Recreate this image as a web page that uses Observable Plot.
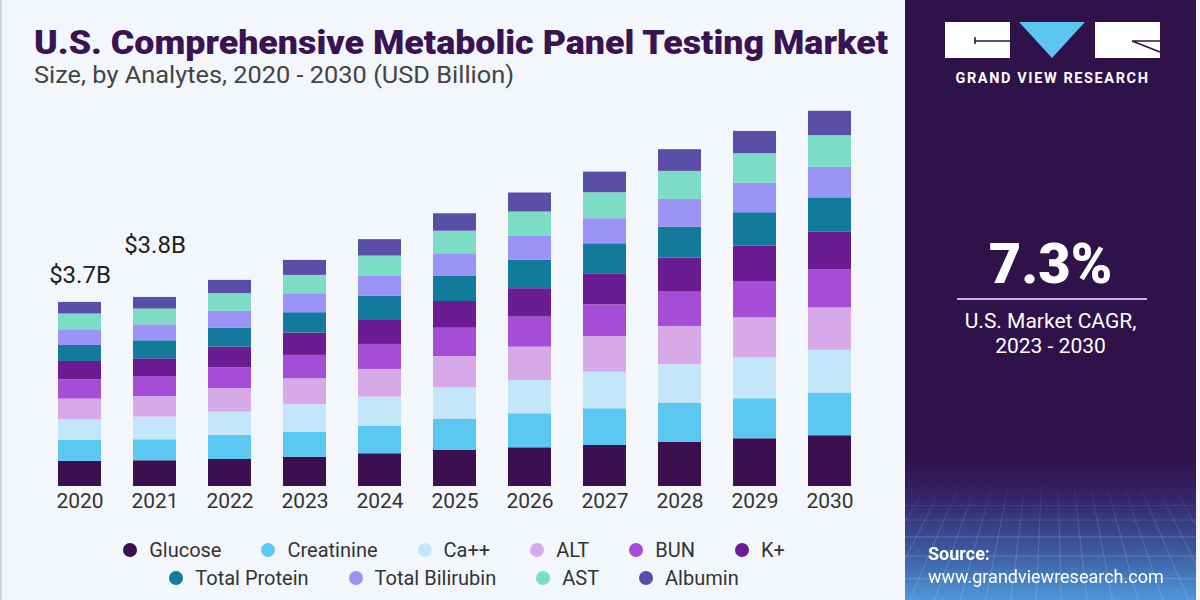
<!DOCTYPE html>
<html>
<head>
<meta charset="utf-8">
<script src="https://cdn.jsdelivr.net/npm/d3@7"></script>
<script src="https://cdn.jsdelivr.net/npm/@observablehq/plot@0.6"></script>
<style>
  html, body { margin: 0; padding: 0; }
  body {
    width: 1200px; height: 600px; position: relative; overflow: hidden;
    background: #f3f7fb; font-family: Roboto, "Liberation Sans", sans-serif;
  }
  #left {
    position: absolute; left: 0; top: 0; width: 905px; height: 600px;
    background: #f3f7fb; border-left: 2px solid #d3d6db; box-sizing: border-box;
  }
  .fit { position: absolute; white-space: nowrap; transform-origin: 0 0; }
  #title { left: 32px; top: 23px; font-size: 33px; font-weight: 900; color: #3a1352; }
  #subtitle { left: 32px; top: 62px; font-size: 23px; color: #444; }
  #chart { position: absolute; left: 0; top: 88px; }
  #legend { position: absolute; left: 0; top: 536px; width: 904px; font-size: 20px; color: #333; }
  .row { display: flex; justify-content: center; height: 28px; align-items: center; }
  .item { display: flex; align-items: center; margin: 0 20px; }
  .dot { width: 14px; height: 14px; border-radius: 50%; margin-right: 12px; }
  #panel {
    position: absolute; left: 905px; top: 0; width: 291px; height: 600px; overflow: hidden;
    background: linear-gradient(to bottom, #2e1249 0%, #2e1249 76%, #34246a 83%, #3d5aa0 92%, #4f98d8 100%);
  }
  #grid {
    position: absolute; left: -120px; width: 531px; top: 480px; height: 160px;
    background-image:
      repeating-linear-gradient(to right, rgba(200,210,255,0.16) 0 1px, transparent 1px 16px),
      repeating-linear-gradient(to bottom, rgba(200,210,255,0.16) 0 1px, transparent 1px 14px);
    transform: perspective(160px) rotateX(38deg);
    transform-origin: 50% 0;
    -webkit-mask-image: linear-gradient(to bottom, transparent 0%, #000 35%);
    mask-image: linear-gradient(to bottom, transparent 0%, #000 35%);
  }
  #cagr { position: absolute; left: 0; width: 291px; top: 234px; text-align: center;
    color: #fff; font-size: 56px; font-weight: 900; line-height: 60px; }
  #rule { position: absolute; left: 52px; width: 190px; top: 298px; height: 2px; background: #c9b4e6; }
  #cagrText { position: absolute; left: 0; width: 291px; top: 309px; text-align: center;
    color: #fff; font-size: 21px; line-height: 25px; }
  #source { position: absolute; left: 23px; top: 543px; color: #fff; font-size: 18px; font-weight: 700; }
  #url { position: absolute; left: 23px; top: 566px; color: #fff; font-size: 18px; }
  #logo { position: absolute; left: 0; top: 0; }
</style>
</head>
<body>
<div id="left">
  <div id="title" class="fit">U.S. Comprehensive Metabolic Panel Testing Market</div>
  <div id="subtitle" class="fit">Size, by Analytes, 2020 - 2030 (USD Billion)</div>
  <div id="chart"></div>
  <div id="legend"></div>
</div>
<div id="panel">
  <div id="grid"></div>
  <svg id="logo" width="291" height="95">
    <rect x="40" y="22" width="65" height="36" fill="#fff"/>
    <path d="M70 37 V44 M70 41 H105" stroke="#2e1249" stroke-width="1.6" fill="none"/>
    <polygon points="114,22 180,22 147,58" fill="#5ec4f0"/>
    <rect x="190" y="22" width="65" height="36" fill="#fff"/>
    <path d="M227 41 H255 M227 41 L255 52" stroke="#2e1249" stroke-width="1.6" fill="none"/>
    <text x="147.5" y="83" text-anchor="middle" fill="#fff" font-size="14.5" font-weight="700"
      letter-spacing="1.6" font-family="Roboto, sans-serif">GRAND VIEW RESEARCH</text>
  </svg>
  <div id="cagr">7.3%</div>
  <div id="rule"></div>
  <div id="cagrText">U.S. Market CAGR,<br>2023 - 2030</div>
  <div id="source">Source:</div>
  <div id="url">www.grandviewresearch.com</div>
</div>

<script>
// Market size by analyte, USD billion
const years = ["2020", "2021", "2022", "2023", "2024", "2025", "2026", "2027", "2028", "2029", "2030"];
const analytes = ["Glucose", "Creatinine", "Ca++", "ALT", "BUN", "K+", "Total Protein", "Total Bilirubin", "AST", "Albumin"];
const colors = ["#3b0f50", "#5bc8f2", "#c3e7f8", "#d8a9e8", "#a54dd6", "#6c1c92", "#147a9b", "#9994f6", "#7cdcc6", "#5a4ea6"];

const glucose        = [0.503, 0.517, 0.543, 0.589, 0.658, 0.724, 0.778, 0.824, 0.891, 0.959, 1.020];
const creatinine     = [0.422, 0.422, 0.483, 0.503, 0.555, 0.623, 0.684, 0.738, 0.784, 0.804, 0.859];
const calcium        = [0.416, 0.456, 0.469, 0.551, 0.583, 0.637, 0.670, 0.736, 0.772, 0.824, 0.857];
const alt            = [0.416, 0.414, 0.471, 0.523, 0.557, 0.629, 0.670, 0.718, 0.770, 0.804, 0.853];
const bun            = [0.388, 0.402, 0.422, 0.469, 0.503, 0.569, 0.603, 0.637, 0.690, 0.730, 0.770];
const potassium      = [0.368, 0.356, 0.414, 0.448, 0.497, 0.537, 0.571, 0.623, 0.684, 0.710, 0.750];
const totalProtein   = [0.322, 0.362, 0.382, 0.410, 0.469, 0.503, 0.569, 0.603, 0.623, 0.672, 0.692];
const totalBilirubin = [0.316, 0.322, 0.336, 0.382, 0.402, 0.456, 0.483, 0.503, 0.557, 0.595, 0.615];
const ast            = [0.316, 0.316, 0.356, 0.368, 0.408, 0.454, 0.489, 0.523, 0.563, 0.591, 0.637];
const albumin        = [0.233, 0.233, 0.267, 0.302, 0.330, 0.350, 0.382, 0.414, 0.436, 0.448, 0.489];

const labelledYears = ["2020", "2021"];

const series = [glucose, creatinine, calcium, alt, bun, potassium, totalProtein, totalBilirubin, ast, albumin];

const table = [];
years.forEach((year, i) => {
  analytes.forEach((analyte, j) => table.push({year, analyte, value: series[j][i]}));
});
const totals = years.map((year, i) => ({year, total: d3.sum(series, s => s[i])}));
const fmt = d => `$${d.total.toFixed(1)}B`;

const chart = Plot.plot({
  width: 900,
  height: 432,
  marginTop: 0,
  marginBottom: 34,
  marginLeft: 23,
  marginRight: 19,
  style: {background: "transparent", fontFamily: "Roboto, 'Liberation Sans', sans-serif", color: "#333"},
  x: {domain: years, padding: 0.43, axis: null},
  y: {domain: [0, 8], axis: null},
  color: {domain: analytes, range: colors},
  marks: [
    Plot.barY(table, {x: "year", y: "value", fill: "analyte", order: analytes}),
    Plot.axisX({tickSize: 0, tickPadding: 7, fontSize: 21, fill: "#333", label: null}),
    Plot.text(totals.filter(d => d.year === labelledYears[0]),
      {x: "year", y: "total", text: fmt, dy: -27, fontSize: 24, fill: "#222"}),
    Plot.text(totals.filter(d => d.year === labelledYears[1]),
      {x: "year", y: "total", text: fmt, dy: -52, fontSize: 24, fill: "#222"})
  ]
});
document.getElementById("chart").append(chart);

// Legend in two rows
const legend = document.getElementById("legend");
[analytes.slice(0, 6), analytes.slice(6)].forEach(group => {
  const row = document.createElement("div");
  row.className = "row";
  group.forEach(name => {
    const item = document.createElement("div");
    item.className = "item";
    const dot = document.createElement("span");
    dot.className = "dot";
    dot.style.background = colors[analytes.indexOf(name)];
    item.append(dot, document.createTextNode(name));
    row.append(item);
  });
  legend.append(row);
});

// Squeeze headings horizontally to their set widths
function fitWidth(id, target) {
  const el = document.getElementById(id);
  const w = el.getBoundingClientRect().width;
  el.style.transform = `scaleX(${target / w})`;
}
fitWidth("title", 854);
fitWidth("subtitle", 480);
</script>
</body>
</html>
